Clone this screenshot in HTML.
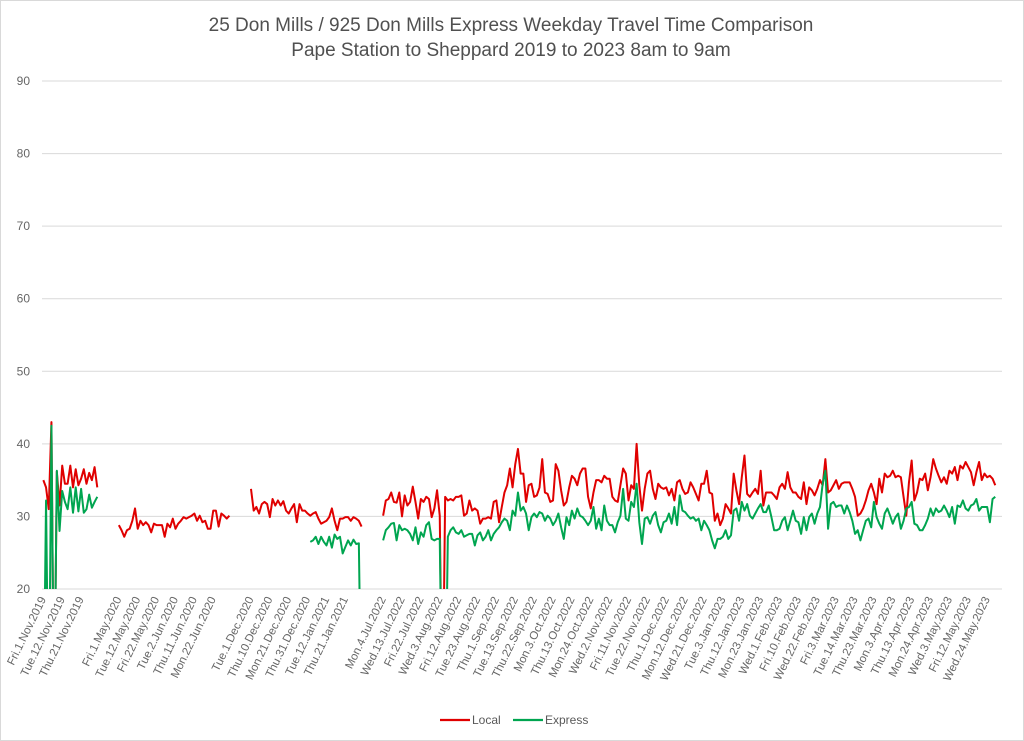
<!DOCTYPE html>
<html><head><meta charset="utf-8"><style>
html,body{margin:0;padding:0;background:#fff;}
svg{display:block;font-family:"Liberation Sans",sans-serif;}
</style></head><body>
<svg id="chart" width="1024" height="741" viewBox="0 0 1024 741" xmlns="http://www.w3.org/2000/svg">
<rect x="0.5" y="0.5" width="1023" height="740" fill="#fff" stroke="#d9d9d9"/>
<text x="511" y="31" text-anchor="middle" font-size="19" fill="#505050">25 Don Mills / 925 Don Mills Express Weekday Travel Time Comparison</text>
<text x="511" y="56" text-anchor="middle" font-size="19" fill="#505050">Pape Station to Sheppard 2019 to 2023 8am to 9am</text>
<g id="grid"></g>
<g id="yaxis"></g>
<g id="xaxis"></g>
<defs><clipPath id="plotclip"><rect x="42" y="75" width="962" height="514"/></clipPath></defs>
<g id="series" clip-path="url(#plotclip)"></g>
<g>
<line x1="440" y1="720" x2="470" y2="720" stroke="#e00000" stroke-width="2.2"/>
<text x="472" y="724" font-size="12" fill="#595959">Local</text>
<line x1="513" y1="720" x2="543" y2="720" stroke="#00a550" stroke-width="2.2"/>
<text x="545" y="724" font-size="12" fill="#595959">Express</text>
</g>
</svg>
<script>
const N = 356;
const yTicks = [20,30,40,50,60,70,80,90];
const labelSlots = [0,1,2,4,5,6,7,8,9,11,12,13,14,15,16,18,19,20,21,22,23,24,25,26,27,28,29,30,31,32,33,34,35,36,37,38,39,40,41,42,43,44,45,46,47,48,49,50];
const labelTexts = ["Fri.1.Nov.2019","Tue.12.Nov.2019","Thu.21.Nov.2019","Fri.1.May.2020","Tue.12.May.2020","Fri.22.May.2020","Tue.2.Jun.2020","Thu.11.Jun.2020","Mon.22.Jun.2020","Tue.1.Dec.2020","Thu.10.Dec.2020","Mon.21.Dec.2020","Thu.31.Dec.2020","Tue.12.Jan.2021","Thu.21.Jan.2021","Mon.4.Jul.2022","Wed.13.Jul.2022","Fri.22.Jul.2022","Wed.3.Aug.2022","Fri.12.Aug.2022","Tue.23.Aug.2022","Thu.1.Sep.2022","Tue.13.Sep.2022","Thu.22.Sep.2022","Mon.3.Oct.2022","Thu.13.Oct.2022","Mon.24.Oct.2022","Wed.2.Nov.2022","Fri.11.Nov.2022","Tue.22.Nov.2022","Thu.1.Dec.2022","Mon.12.Dec.2022","Wed.21.Dec.2022","Tue.3.Jan.2023","Thu.12.Jan.2023","Mon.23.Jan.2023","Wed.1.Feb.2023","Fri.10.Feb.2023","Wed.22.Feb.2023","Fri.3.Mar.2023","Tue.14.Mar.2023","Thu.23.Mar.2023","Mon.3.Apr.2023","Thu.13.Apr.2023","Mon.24.Apr.2023","Wed.3.May.2023","Fri.12.May.2023","Wed.24.May.2023"];
const segStarts = [0,28,77,126];
const localNov2019 = [35.0,34.0,31.0,43.0,0,36.2,31.5,37.0,34.5,34.5,37.0,34.0,36.5,34.3,35.2,36.5,34.5,36.0,35.0,36.8,34.0];
const expressNov2019 = [0,32.2,0,42.5,0,36.3,28.0,33.5,32.0,31.0,34.0,30.5,34.0,30.7,33.8,30.5,31.0,33.0,31.2,32.0,32.7];
const local2020 = [28.8,28.1,27.2,28.1,28.3,29.4,31.1,28.3,29.4,28.8,29.2,28.8,27.8,29.0,28.8,28.8,28.8,27.2,29.0,28.5,29.7,28.3,29.0,29.4,29.9,29.7,29.9,30.1,30.4,29.4,30.1,29.2,29.4,28.3,28.3,30.8,30.8,28.6,30.4,30.1,29.7,30.1];
const express2020 = [];
const localWinter = [33.8,30.8,31.3,30.4,31.7,32.0,31.7,29.9,32.4,31.5,32.2,31.5,32.1,30.8,30.4,31.1,31.7,29.2,31.7,30.8,30.8,30.4,30.1,30.4,30.6,29.7,29.0,29.2,29.4,29.9,31.1,29.4,28.1,29.7,29.7,29.9,29.9,29.4,29.9,29.7,29.4,28.6];
const expressWinter = [null,null,null,null,null,null,null,null,null,null,null,null,null,null,null,null,null,null,null,null,null,null,26.5,26.7,27.2,26.2,27.2,26.5,26.0,27.2,25.7,27.5,26.9,27.2,24.9,25.8,26.7,26.0,26.8,26.2,26.3,0];
const local2022 = [30.1,32.2,32.4,33.3,32.0,31.9,33.3,30.0,32.9,31.5,32.0,34.1,32.0,29.7,32.4,32.0,32.7,32.4,29.9,31.1,33.6,30.1,0,32.7,32.2,32.4,32.2,32.7,32.7,32.9,30.1,30.4,32.2,30.8,31.1,30.8,29.0,29.7,29.7,29.9,29.7,32.0,32.2,29.2,31.3,33.3,34.3,36.6,34.0,37.2,39.3,35.9,35.9,32.0,34.3,34.5,32.7,
32.9,34.0,37.9,33.3,33.1,32.0,32.2,37.2,36.3,33.6,31.5,32.0,34.0,35.6,35.2,34.3,35.9,36.6,36.6,32.7,31.1,33.3,35.0,35.0,34.7,35.6,35.2,35.2,32.7,32.2,32.0,34.3,36.6,35.9,32.2,34.3,33.8,40.0,34.3,30.8,33.8,35.9,36.3,33.8,32.4,34.5,34.0,33.8,34.0,32.9,33.8,32.2,34.7,35.0,33.8,33.1,33.3,34.7,
34.0,33.1,32.2,34.5,34.5,36.3,33.3,33.1,29.4,30.4,28.8,29.7,31.7,31.1,30.4,35.9,33.6,31.7,35.4,38.4,33.1,32.7,33.3,33.8,33.1,36.3,31.5,33.3,33.3,33.3,32.9,32.4,34.0,34.5,33.8,36.1,34.0,33.3,33.3,32.7,32.4,34.7,31.7,34.0,33.6,32.9,33.8,35.0,34.3,37.9,33.3,33.6,34.3,35.0,33.8,34.5,34.7,
34.7,34.7,33.8,32.7,30.1,30.4,31.1,32.2,33.6,34.5,33.3,31.7,35.2,33.3,35.9,35.4,35.6,36.3,35.4,35.6,35.4,32.7,30.1,34.7,37.7,32.2,33.3,35.2,35.0,35.9,33.6,35.4,37.9,36.6,35.6,34.7,35.4,34.5,36.3,35.9,36.8,35.0,37.0,36.6,37.5,36.8,36.1,34.3,36.1,37.5,35.0,35.9,35.4,35.6,35.2,34.3];
const express2022 = [26.7,28.1,28.5,29.0,29.1,26.7,28.8,28.1,28.3,28.1,27.6,26.7,28.5,26.2,27.8,27.2,28.8,29.2,26.9,26.7,26.9,26.9,0,0,27.2,28.1,28.5,27.8,27.6,28.1,27.2,27.4,27.6,27.6,26.0,27.4,27.8,26.7,27.2,28.1,26.7,27.6,28.1,28.5,29.2,29.7,29.4,28.1,30.8,30.1,33.3,30.8,31.3,30.4,28.1,29.9,30.4,
29.9,30.6,30.4,29.4,30.1,29.7,28.8,29.4,30.4,28.5,26.9,29.9,28.8,30.8,29.7,31.1,30.1,29.9,29.4,28.8,29.4,31.3,28.3,29.7,28.1,31.5,29.4,28.8,28.8,27.8,29.2,30.1,33.8,29.7,29.4,32.0,31.3,34.5,29.2,26.2,29.7,29.9,29.0,30.1,30.6,28.8,27.8,29.2,29.4,30.4,29.0,31.3,28.8,32.9,30.8,30.6,30.1,29.7,
29.9,29.4,29.7,28.1,29.4,28.8,28.1,26.7,25.6,26.9,26.9,27.2,28.1,26.9,27.4,30.8,31.1,29.4,32.0,30.8,31.7,30.1,29.7,30.4,31.1,31.7,30.6,30.6,31.5,29.9,28.1,28.1,28.3,29.4,29.9,28.1,29.4,30.8,29.4,29.2,27.6,29.9,28.1,29.9,30.4,29.0,30.4,31.3,34.5,36.3,28.3,31.7,32.0,31.3,31.5,31.5,30.4,
31.5,30.6,29.4,27.6,28.1,26.7,28.1,29.4,29.7,28.5,32.0,29.9,29.0,28.3,30.4,31.1,30.1,29.0,29.9,30.4,28.3,29.4,31.1,31.3,32.0,29.0,28.8,28.1,28.1,28.8,29.7,31.1,30.1,31.1,30.6,30.8,31.5,30.8,29.9,31.3,29.0,31.5,31.3,32.2,31.1,30.8,31.5,31.7,32.4,30.8,31.3,31.3,31.3,29.2,32.4,32.7];

const X0 = 42, X1 = 1002, YB = 589, YT = 81, YMIN = 20, YMAX = 90;
const NS = "http://www.w3.org/2000/svg";
function xScale(i){ return X0 + (i + 0.5) * (X1 - X0) / N; }
function yScale(v){ return YB - (v - YMIN) * (YB - YT) / (YMAX - YMIN); }
function mk(tag, attrs){ const e = document.createElementNS(NS, tag); for (const k in attrs) e.setAttribute(k, attrs[k]); return e; }

const grid = document.getElementById('grid');
const yaxis = document.getElementById('yaxis');
yTicks.forEach(t => {
  const ln = mk('line', {x1: X0, x2: X1, y1: yScale(t), y2: yScale(t), stroke: '#d9d9d9', 'stroke-width': 1});
  
  
  grid.appendChild(ln);
  const tx = mk('text', {x: 30, y: yScale(t) + 4, 'text-anchor': 'end', 'font-size': 12, fill: '#666'});
  tx.textContent = t;
  
  
  yaxis.appendChild(tx);
});

const xaxis = document.getElementById('xaxis');
labelSlots.forEach((s, k) => {
  const x = xScale(s * 7) + 3;
  const tx = mk('text', {x: 0, y: 0, 'text-anchor': 'end', 'font-size': 11.5, fill: '#666', transform: 'translate(' + x + ',599) rotate(-64)'});
  tx.textContent = labelTexts[k];
  
  
  xaxis.appendChild(tx);
});

function buildSeries(parts){
  const arr = new Array(N).fill(null);
  parts.forEach((p, si) => { p.forEach((v, j) => { arr[segStarts[si] + j] = v; }); });
  return arr;
}
const local = buildSeries([localNov2019, local2020, localWinter, local2022]);
const express = buildSeries([expressNov2019, express2020, expressWinter, express2022]);

const series = document.getElementById('series');
function drawLine(vals, color, name){
  let d = '', pen = false;
  vals.forEach((v, i) => {
    if (v === null || v === undefined) { pen = false; return; }
    d += (pen ? 'L' : 'M') + xScale(i).toFixed(2) + ' ' + yScale(v).toFixed(2) + ' ';
    pen = true;
  });
  const p = mk('path', {d: d, fill: 'none', stroke: color, 'stroke-width': 2, 'stroke-linejoin': 'round'});
  
  
  series.appendChild(p);
}
drawLine(local, '#e00000', 'local-line');
drawLine(express, '#00a550', 'express-line');
</script>
</body></html>
